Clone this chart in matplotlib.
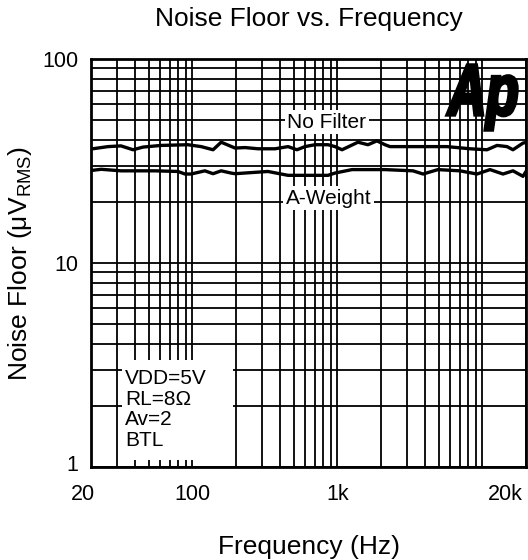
import matplotlib
matplotlib.use("Agg")
import matplotlib.pyplot as plt
import matplotlib.transforms as mtransforms
from matplotlib.ticker import FixedLocator, FixedFormatter, NullFormatter
from matplotlib.textpath import TextPath
from matplotlib.patches import PathPatch, Rectangle
from matplotlib.font_manager import FontProperties

plt.rcParams["font.family"] = ["Liberation Sans", "DejaVu Sans"]
plt.rcParams["mathtext.fontset"] = "custom"
plt.rcParams["mathtext.rm"] = "Liberation Sans"

# No Filter curve (Hz, uVrms)
nf_freq = [20, 26.2, 32.2, 39, 45.7, 60.8, 93, 115, 139, 158, 197, 231, 284, 372,
           457, 527, 598, 701, 862, 964, 1077, 1388, 1626, 1876, 2131, 2307, 3324,
           5700, 8222, 10768, 12619, 14790, 16260, 19060, 20000]
nf_val = [36.2, 37.2, 37.5, 35.9, 37.0, 37.7, 38.0, 37.2, 35.9, 39.1, 36.6, 36.8,
          36.3, 36.3, 37.2, 35.9, 37.2, 38.0, 38.0, 37.2, 35.9, 39.1, 38.0, 39.7,
          38.0, 37.2, 37.2, 37.2, 36.3, 35.9, 37.7, 37.2, 35.9, 38.7, 39.0]

# A-Weight curve
aw_freq = [20, 23.5, 32.2, 55.3, 79.6, 88.9, 97.9, 122, 139, 158, 184.8, 197, 332,
           457, 570, 862, 964, 1262, 2131, 3324, 3900, 4944, 7012, 9180, 11290,
           13880, 16260, 19060, 20000]
aw_val = [28.4, 28.8, 28.3, 28.3, 28.1, 27.3, 27.3, 28.3, 27.4, 28.3, 27.6, 27.4,
          28.1, 26.9, 26.9, 26.9, 27.6, 28.7, 28.7, 28.3, 27.3, 28.7, 28.3, 27.3,
          28.7, 27.3, 28.3, 26.6, 28.1]

x_major = [20, 100, 1000, 20000]
x_labels = ["20", "100", "1k", "20k"]
x_minor = [30, 40, 50, 60, 70, 80, 90, 200, 300, 400, 500, 600, 700, 800, 900,
           2000, 3000, 4000, 5000, 6000, 7000, 8000, 9000, 10000]
y_major = [1, 10, 100]
y_labels = ["1", "10", "100"]
y_minor = [2, 3, 4, 5, 6, 7, 8, 9, 20, 30, 40, 50, 60, 70, 80, 90]

conditions = "VDD=5V\nRL=8\u03a9\nAv=2\nBTL"

fig = plt.figure(figsize=(5.28, 5.6), dpi=100)
ax = fig.add_axes([91 / 528, 1 - 467 / 560, 435 / 528, 408 / 560])
ax.set_xscale("log")
ax.set_yscale("log")
ax.set_xlim(20, 20000)
ax.set_ylim(1, 100)

ax.xaxis.set_major_locator(FixedLocator(x_major))
ax.xaxis.set_major_formatter(FixedFormatter(x_labels))
ax.xaxis.set_minor_locator(FixedLocator(x_minor))
ax.xaxis.set_minor_formatter(NullFormatter())
ax.yaxis.set_major_locator(FixedLocator(y_major))
ax.yaxis.set_major_formatter(FixedFormatter(y_labels))
ax.yaxis.set_minor_locator(FixedLocator(y_minor))
ax.yaxis.set_minor_formatter(NullFormatter())

ax.grid(True, which="both", color="black", linewidth=1.3)
ax.set_axisbelow(True)
ax.tick_params(which="both", length=0, labelsize=15.5)
ax.tick_params(axis="x", pad=12)
ax.tick_params(axis="y", pad=9)
for s in ax.spines.values():
    s.set_linewidth(2)

# nudge the end labels like the original
xt = ax.get_xticklabels()
xt[0].set_transform(xt[0].get_transform() +
                    mtransforms.ScaledTranslation(-8 / 100, 0, fig.dpi_scale_trans))
xt[-1].set_transform(xt[-1].get_transform() +
                     mtransforms.ScaledTranslation(-21 / 100, 0, fig.dpi_scale_trans))
yt = ax.get_yticklabels()
yt[0].set_transform(yt[0].get_transform() +
                    mtransforms.ScaledTranslation(0, 4 / 100, fig.dpi_scale_trans))

ax.plot(nf_freq, nf_val, color="black", linewidth=2.4, zorder=3)
ax.plot(aw_freq, aw_val, color="black", linewidth=2.4, zorder=3)

box = dict(facecolor="white", edgecolor="none", pad=2)
ax.text(848, 49.0, "No Filter", fontsize=15, ha="center", va="center", bbox=box, zorder=4)
ax.text(875, 20.8, "A-Weight", fontsize=15, ha="center", va="center", bbox=box, zorder=4)

ax.add_patch(Rectangle((0.071, 0.017), 0.255, 0.245, transform=ax.transAxes,
                       facecolor="white", edgecolor="none", zorder=4))
ax.text(0.078, 0.24, conditions, transform=ax.transAxes, fontsize=15,
        ha="left", va="top", linespacing=1.1, zorder=5)

ax.set_title("Noise Floor vs. Frequency", fontsize=19, pad=24)
ax.set_xlabel("Frequency (Hz)", fontsize=19, labelpad=22)
ax.set_ylabel("Noise Floor (\u03bcV$_{\\rm RMS}$)", fontsize=19, labelpad=6)

# Ap logo, bold italic, squeezed into its box
tp = TextPath((0, 0), "Ap", size=1,
              prop=FontProperties(family="Liberation Sans", weight="bold", style="italic"))
ext = tp.get_extents()
x0, x1 = 447 / 528, 517 / 528
y0, y1 = 1 - 130 / 560, 1 - 65 / 560
tr = (mtransforms.Affine2D()
      .translate(-ext.x0, -ext.y0)
      .scale((x1 - x0) / ext.width, (y1 - y0) / ext.height)
      .translate(x0, y0) + fig.transFigure)
fig.patches.append(PathPatch(tp, transform=tr, facecolor="black", edgecolor="black",
                             linewidth=2.5, zorder=6))

fig.savefig("out.png", dpi=100)
